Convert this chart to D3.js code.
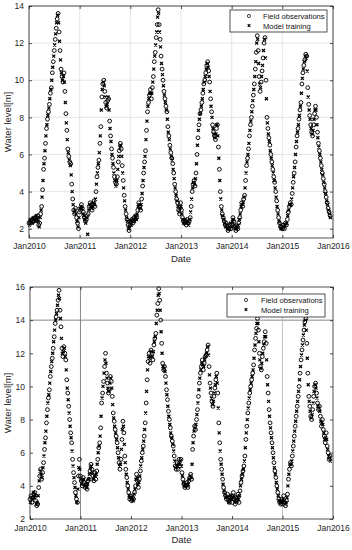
<!DOCTYPE html>
<html>
<head>
<meta charset="utf-8">
<script src="https://cdn.jsdelivr.net/npm/d3@7"></script>
<style>
body { margin: 0; background: #fff; }
svg { font-family: "Liberation Sans", Arial, sans-serif; }
</style>
</head>
<body>
<div id="chart"></div>
<script>
var width = 352,
    height = 550;

// tick values
var years = [2010, 2011, 2012, 2013, 2014, 2015, 2016];
var topYTicks = [2, 4, 6, 8, 10, 12, 14];
var botYTicks = [2, 4, 6, 8, 10, 12, 14, 16];
var legendLabels = ['Field observations', 'Model training'];

// weekly field observations from 1 Jan 2010 (top well), one line per year
var topObs = [
    2.3,2.4,2.3,2.5,2.4, 2.4,2.6,2.5,2.6, 2.7,2.2,2.3,2.8, 3.2,4.1,5.2,5.8, 6.6,7.4,7.9,8.3,8.7, 9.3,9.6,10.4,11.0, 11.6,12.2,12.8,13.3,13.6, 12.6,11.6,10.6,10.2, 9.9,10.4,9.4,8.2, 7.3,6.3,5.9,5.6,5.5, 4.4,3.6,3.0,2.8, 3.1,2.6,2.3,2.0,
    2.9,3.0,3.3,3.1,2.9, 2.6,2.4,2.5,2.7, 2.8,3.2,3.4,3.3, 3.0,3.3,3.5,3.2, 4.0,4.8,5.3,5.7,6.6, 7.5,9.1,9.8,10.0, 9.4,8.8,8.5,8.9,9.0, 7.8,7.0,6.3,5.8, 5.3,4.8,4.5,4.4, 4.8,5.6,6.2,6.6,6.3, 5.4,4.6,3.8,3.2, 2.8,2.5,2.2,1.9,
    2.2,2.4,2.5,2.3,2.6, 2.5,2.7,2.6,3.0, 3.4,3.2,3.0,3.6, 4.3,5.0,5.6,6.2, 7.3,8.3,8.8,9.2,9.5, 9.0,9.6,10.2,11.0, 11.5,12.3,13.0,13.8,13.0, 12.2,11.3,10.6,10.0, 9.4,9.0,8.6,8.3, 7.5,7.0,6.5,6.1,5.8, 5.5,5.0,4.4,4.0, 3.6,3.4,3.0,2.8,
    3.4,3.0,2.6,2.4,2.3, 2.4,2.2,2.5,2.3, 2.4,2.6,3.2,4.0, 4.4,4.6,4.3,5.0, 6.0,6.9,7.6,8.2,8.4, 8.8,9.3,9.8,10.0, 10.4,10.8,11.0,10.5,9.9, 9.0,8.3,7.6,7.2, 7.0,6.8,7.4,7.6, 6.4,5.2,4.0,3.2,2.8, 2.6,2.4,2.2,2.3, 2.1,1.9,2.0,2.2,
    2.0,2.2,2.6,2.4,2.1, 1.9,2.1,2.0,2.3, 2.6,3.0,3.4,3.2, 3.6,3.8,4.6,5.4, 5.8,6.3,7.0,7.6,8.0, 8.6,9.2,9.8,10.6, 11.5,12.4,11.6,10.2,9.4, 9.9,10.5,11.2,12.0, 12.3,10.0,8.0,7.4, 6.9,6.5,6.0,5.6,5.2, 4.8,4.5,4.0,3.5, 3.0,2.6,2.3,2.1,
    2.1,2.0,2.2,2.0,2.3, 2.2,2.5,2.9,3.2, 3.4,3.3,3.9,4.5, 5.0,5.6,6.4,7.0, 7.4,7.9,8.4,8.8,9.8, 10.4,10.8,11.1,11.4, 11.3,9.6,8.7,8.1,7.6, 7.2,7.0,7.6,8.2, 8.6,8.0,7.2,6.6, 6.2,5.8,5.4,5.0,4.7, 4.4,4.0,3.7,3.4, 3.1,2.9,2.7
];

// weekly model training values from 4 Jan 2010 (top well)
var topModel = [
    2.2,2.5,2.4,2.3,2.6, 2.5,2.4,2.7,2.5,2.4, 2.1,2.6,3.0,3.7,4.6, 5.5,6.2,7.0,7.6,8.1, 8.5,9.0,9.5,10.0,10.7, 11.3,11.9,12.5,13.1,13.5, 13.1,12.1,11.1,10.4,10.0, 10.2,9.9,8.8,7.7,6.8, 6.1,5.7,5.4,4.9,4.0, 3.3,2.9,3.0,2.8,2.4, 2.1,2.6,
    3.1,3.2,3.1,2.8,2.7, 2.5,2.3,2.6,1.7,3.0, 3.3,3.2,3.1,3.2,3.4, 3.3,3.6,4.4,5.0,5.5, 6.1,7.0,8.4,9.5,9.9, 9.7,9.1,8.6,8.7,9.1, 8.4,7.4,6.7,6.0,5.5, 5.0,4.6,4.3,4.6,5.2, 5.9,6.4,6.5,5.9,5.0, 4.2,3.5,3.0,2.6,2.4, 2.0,2.1,
    2.4,2.2,2.4,2.5,2.4, 2.7,2.5,2.8,3.2,3.3, 3.1,3.3,3.9,4.6,5.3, 5.9,6.8,7.8,8.6,9.0, 9.3,9.3,9.3,9.9,10.6, 11.3,11.9,12.6,13.4,13.6, 12.6,11.8,10.9,10.3,9.7, 9.2,8.8,8.4,7.9,7.2, 6.8,6.3,5.9,5.7,5.2, 4.7,4.2,3.8,3.5,3.2, 2.9,3.1,
    3.2,2.8,2.5,2.3,2.5, 2.3,2.4,2.4,2.2,2.5, 2.9,3.6,4.2,4.5,4.4, 4.7,5.5,6.5,7.3,7.9, 8.2,8.6,9.0,9.5,9.9, 10.2,10.6,10.9,10.7,10.2, 9.4,8.6,8.0,7.4,7.1, 6.9,7.1,7.6,7.0,5.8, 4.6,3.6,3.0,2.7,2.5, 2.3,2.1,2.2,2.0,2.0, 2.1,2.3,
    2.1,2.4,2.5,2.2,2.0, 2.0,2.1,2.2,2.5,2.8, 3.2,3.3,3.4,3.7,4.2, 5.0,5.6,6.0,6.6,7.3, 7.8,8.3,8.9,9.5,10.2, 11.0,12.0,12.2,10.9,9.8, 9.6,10.2,10.8,11.6,12.2, 11.2,9.0,7.7,7.1,6.7, 6.2,5.8,5.4,5.0,4.6, 4.2,3.7,3.2,2.8,2.4, 2.2,2.0,
    2.0,2.1,2.1,2.2,2.2, 2.3,2.7,3.0,3.3,3.3, 3.6,4.2,4.8,5.3,6.0, 6.7,7.2,7.6,8.1,8.6, 9.3,10.1,10.6,11.0,11.3, 11.2,10.5,9.1,8.4,7.9, 7.4,7.1,7.3,7.9,8.4, 8.4,7.6,6.9,6.4,6.0, 5.6,5.2,4.9,4.5,4.2, 3.9,3.5,3.3,3.0,2.8, 2.6
];

// weekly field observations from 1 Jan 2010 (bottom well)
var botObs = [
    3.2,3.4,3.0,3.3,3.5, 3.6,3.1,2.8,2.9, 3.9,4.6,5.0,4.4, 4.8,5.4,6.2,6.9, 7.8,8.6,9.3,9.8,10.6, 11.2,11.7,12.3,13.0, 13.8,14.2,14.6,15.2,15.8, 14.6,13.6,12.3,11.8, 12.4,12.0,11.6,10.4, 9.6,8.8,8.0,7.2,6.6, 5.6,4.8,4.2,3.6, 3.2,3.0,4.6,5.6,
    4.6,4.3,4.0,4.5,4.2, 3.9,4.1,3.8,4.3, 4.4,4.9,5.3,5.0, 4.6,4.3,4.8,4.4, 4.9,5.6,6.3,6.6,7.5, 9.0,9.6,10.3,11.2, 12.0,10.8,10.2,9.6,9.8, 10.6,10.3,9.4,8.4, 7.9,7.4,7.0,6.6, 6.0,5.4,5.0,5.6,6.8, 7.9,7.2,5.8,5.0, 4.5,4.0,3.6,3.2,
    3.4,3.1,3.3,3.2,3.6, 4.0,4.7,4.3,3.9, 4.4,4.9,5.5,6.0, 6.4,7.0,7.8,9.0, 10.4,11.5,12.0,11.4,12.2, 12.0,11.6,12.5,12.9, 13.2,14.3,15.0,15.9,15.2, 14.0,12.6,11.4,11.0, 11.2,10.6,9.8,9.2, 8.5,8.0,7.5,7.0,6.7, 6.4,5.8,5.2,5.0, 5.4,5.0,5.6,5.2,
    5.6,4.8,4.4,4.1,3.9, 4.0,4.2,3.9,4.3, 4.5,4.7,4.4,6.2, 7.0,7.6,7.4,8.0, 8.6,9.4,10.2,10.8,11.2, 11.6,11.0,11.4,11.8, 11.9,12.2,12.5,11.2,10.2, 9.6,9.1,8.8,9.4, 9.9,10.4,10.8,9.6, 7.8,6.6,5.6,5.0,4.4, 3.9,3.6,3.4,3.2, 3.5,3.1,3.0,3.3,
    3.4,3.0,3.6,3.2,2.9, 3.3,3.1,3.5,3.0, 3.7,4.2,4.6,4.9, 5.2,5.8,6.8,7.6, 8.4,9.0,9.6,10.0,10.4, 10.8,11.3,12.2,12.9, 13.5,14.1,13.4,12.0,11.2, 11.0,11.8,12.3,12.7, 13.3,12.6,10.6,9.6, 8.6,7.8,7.2,6.6,6.0, 5.4,4.9,4.5,4.0, 3.6,3.2,3.0,2.9,
    3.2,2.9,3.4,3.0,2.8, 3.1,3.5,4.4,5.0, 5.4,5.2,5.8,6.4, 7.0,7.6,8.2,8.8, 9.4,10.0,10.8,11.6,12.2, 12.8,13.4,13.9,14.1, 12.6,10.8,9.4,8.8,8.2, 8.0,8.6,9.4,10.0, 10.2,9.6,9.0,8.6, 8.8,8.2,7.6,8.0,7.4, 7.0,6.6,7.2,6.4, 6.0,5.6,5.8
];

// weekly model training values from 4 Jan 2010 (bottom well)
var botModel = [
    3.0,3.3,3.2,3.6,3.3, 3.4,2.9,3.0,3.4,4.3, 4.9,4.7,4.5,5.1,5.8, 6.6,7.3,8.2,9.0,9.5, 10.2,10.9,11.5,12.0,12.7, 13.4,14.0,14.4,14.9,15.5, 15.3,14.1,12.9,12.0,12.1, 12.3,11.8,11.0,9.9,9.2, 8.4,7.6,6.9,6.1,5.2, 4.5,3.9,3.4,3.0,3.8, 5.1,5.0,
    4.4,4.1,4.3,4.4,4.0, 4.0,3.9,4.1,4.4,4.7, 5.1,5.2,4.8,4.4,4.6, 4.6,4.7,5.3,6.0,6.4, 7.0,8.2,9.3,10.0,10.8, 11.6,11.4,10.5,9.9,9.7, 10.2,10.5,9.9,8.9,8.1, 7.6,7.2,6.8,6.3,5.7, 5.2,5.3,6.2,7.4,7.6, 6.5,5.4,4.7,4.2,3.8, 3.4,3.3,
    3.2,3.3,3.1,3.5,3.8, 4.4,4.5,4.1,4.2,4.6, 5.2,5.7,6.2,6.7,7.4, 8.4,9.7,11.0,11.8,11.7, 11.8,12.1,11.8,12.1,12.7, 13.0,13.8,14.6,15.5,15.6, 14.6,13.3,12.0,11.2,11.1, 10.9,10.2,9.5,8.8,8.2, 7.7,7.2,6.9,6.5,6.1, 5.5,5.1,5.2,5.2,5.3, 5.4,5.5,
    5.2,4.6,4.2,4.0,4.0, 4.1,4.0,4.1,4.4,4.6, 4.5,5.3,6.6,7.3,7.5, 7.7,8.3,9.0,9.8,10.5, 11.0,11.4,11.3,11.2,11.6, 11.8,12.0,12.4,11.9,10.7, 9.9,9.3,8.9,9.1,9.6, 10.1,10.6,10.2,8.7,7.2, 6.1,5.3,4.7,4.1,3.7, 3.5,3.3,3.3,3.3,3.0, 3.2,3.4,
    3.2,3.3,3.4,3.0,3.1, 3.2,3.3,3.2,3.4,4.0, 4.4,4.7,5.0,5.5,6.3, 7.2,8.0,8.7,9.3,9.8, 10.2,10.6,11.0,11.7,12.5, 13.2,13.8,13.8,12.7,11.6, 11.1,11.4,12.0,12.5,13.0, 13.0,11.6,10.1,9.1,8.2, 7.5,6.9,6.3,5.7,5.1, 4.7,4.2,3.8,3.4,3.1, 3.0,3.1,
    3.0,3.2,3.1,2.9,3.0, 3.3,4.0,4.7,5.2,5.3, 5.5,6.1,6.7,7.3,7.9, 8.5,9.1,9.7,10.4,11.2, 11.9,12.5,13.1,13.7,14.0, 13.4,11.7,10.1,9.1,8.5, 8.1,8.3,9.0,9.7,10.1, 9.9,9.3,8.8,8.7,8.5, 7.9,7.8,7.7,7.2,6.8, 6.9,6.8,6.2,5.8,5.7, 5.5
];

function obsDate(i) { return new Date(2010, 0, 1 + 7 * i); }
function modelDate(k) { return new Date(2010, 0, 4 + 7 * k); }

var svg = d3.select('#chart').append('svg')
    .attr('width', width)
    .attr('height', height);

var axisColor = '#262626';
var crossPath = 'M-1.5,-1.5L1.5,1.5M-1.5,1.5L1.5,-1.5';

panel({
    left: 29, right: 333, top: 6, bottom: 238,
    yDomain: [1.5, 14], yTicks: topYTicks,
    obs: topObs, model: topModel,
    grid: true, pad: 5,
    legend: {x: 230, y: 10, w: 97, h: 22, mx: 249, tx: 263}
});

panel({
    left: 30, right: 333, top: 287, bottom: 519,
    yDomain: [2, 16], yTicks: botYTicks,
    obs: botObs, model: botModel,
    grid: false, pad: 6,
    legend: {x: 227, y: 294, w: 98, h: 23, mx: 246, tx: 261}
});

function panel(p) {
    var x = d3.scaleTime()
        .domain([new Date(2010, 0, 1), new Date(2016, 0, 1)])
        .range([p.left, p.right]);
    var y = d3.scaleLinear()
        .domain(p.yDomain)
        .range([p.bottom, p.top]);
    var xTicks = years.map(function(yr) { return new Date(yr, 0, 1); });

    var g = svg.append('g');

    if (p.grid) {
        g.append('g').selectAll('line').data(xTicks).enter().append('line')
            .attr('x1', function(d) { return x(d); }).attr('x2', function(d) { return x(d); })
            .attr('y1', p.top).attr('y2', p.bottom)
            .attr('stroke', '#dedede').attr('stroke-width', 0.8);
        g.append('g').selectAll('line').data(p.yTicks).enter().append('line')
            .attr('x1', p.left).attr('x2', p.right)
            .attr('y1', function(d) { return y(d); }).attr('y2', function(d) { return y(d); })
            .attr('stroke', '#dedede').attr('stroke-width', 0.8);
    } else {
        // reference lines drawn on the lower plot
        g.append('line')
            .attr('x1', p.left).attr('x2', p.right)
            .attr('y1', y(14)).attr('y2', y(14))
            .attr('stroke', '#7a7a7a').attr('stroke-width', 0.9);
        g.append('line')
            .attr('x1', x(xTicks[1])).attr('x2', x(xTicks[1]))
            .attr('y1', p.top).attr('y2', p.bottom)
            .attr('stroke', '#7a7a7a').attr('stroke-width', 0.9);
        g.append('line')
            .attr('x1', x(xTicks[5])).attr('x2', x(xTicks[5]))
            .attr('y1', p.top).attr('y2', p.bottom)
            .attr('stroke', '#b4b4b4').attr('stroke-width', 0.8);
    }

    // field observations: open circles
    g.append('g').selectAll('circle').data(p.obs).enter().append('circle')
        .attr('cx', function(d, i) { return x(obsDate(i)); })
        .attr('cy', function(d) { return y(d); })
        .attr('r', 1.9)
        .attr('fill', 'none')
        .attr('stroke', '#000')
        .attr('stroke-width', 0.95);

    // model training: small crosses
    g.append('g').selectAll('path').data(p.model).enter().append('path')
        .attr('transform', function(d, i) {
            return 'translate(' + x(modelDate(i)) + ',' + y(d) + ')';
        })
        .attr('d', crossPath)
        .attr('stroke', '#000')
        .attr('stroke-width', 1.25);

    // axes with inward ticks on all four sides
    var fmt = d3.timeFormat('%b%Y');
    var xb = g.append('g').attr('transform', 'translate(0,' + p.bottom + ')')
        .call(d3.axisBottom(x).tickValues(xTicks).tickFormat(fmt).tickSizeInner(-3).tickSizeOuter(0).tickPadding(p.pad));
    var xt = g.append('g').attr('transform', 'translate(0,' + p.top + ')')
        .call(d3.axisTop(x).tickValues(xTicks).tickFormat('').tickSizeInner(-3).tickSizeOuter(0));
    var yl = g.append('g').attr('transform', 'translate(' + p.left + ',0)')
        .call(d3.axisLeft(y).tickValues(p.yTicks).tickSizeInner(-3).tickSizeOuter(0).tickPadding(5));
    var yr = g.append('g').attr('transform', 'translate(' + p.right + ',0)')
        .call(d3.axisRight(y).tickValues(p.yTicks).tickFormat('').tickSizeInner(-3).tickSizeOuter(0));

    [xb, xt, yl, yr].forEach(function(a) {
        a.select('.domain').remove();
        a.selectAll('line').attr('stroke', axisColor).attr('stroke-width', 0.8);
        a.selectAll('text').attr('fill', axisColor).attr('font-size', 8.5)
            .attr('font-family', '"Liberation Sans", Arial, sans-serif');
    });

    g.append('rect')
        .attr('x', p.left).attr('y', p.top)
        .attr('width', p.right - p.left).attr('height', p.bottom - p.top)
        .attr('fill', 'none').attr('stroke', axisColor).attr('stroke-width', 0.8);

    g.append('text')
        .attr('x', (p.left + p.right) / 2).attr('y', p.bottom + 24)
        .attr('text-anchor', 'middle').attr('font-size', 9.5).attr('fill', axisColor)
        .text('Date');
    g.append('text')
        .attr('transform', 'translate(11,' + (p.top + p.bottom) / 2 + ') rotate(-90)')
        .attr('text-anchor', 'middle').attr('font-size', 9.5).attr('fill', axisColor)
        .text('Water level[m]');

    // legend
    var L = p.legend;
    var lg = g.append('g');
    lg.append('rect')
        .attr('x', L.x).attr('y', L.y).attr('width', L.w).attr('height', L.h)
        .attr('fill', '#fff').attr('stroke', axisColor).attr('stroke-width', 0.8);
    lg.append('circle')
        .attr('cx', L.mx).attr('cy', L.y + 6)
        .attr('r', 1.6).attr('fill', 'none').attr('stroke', '#111').attr('stroke-width', 0.8);
    lg.append('path')
        .attr('transform', 'translate(' + L.mx + ',' + (L.y + 15.5) + ')')
        .attr('d', 'M-1.3,-1.3L1.3,1.3M-1.3,1.3L1.3,-1.3')
        .attr('stroke', '#000').attr('stroke-width', 1.1);
    lg.selectAll('text').data(legendLabels).enter().append('text')
        .attr('x', L.tx)
        .attr('y', function(d, i) { return L.y + 9 + i * 9.5; })
        .attr('font-size', 7.6).attr('fill', '#111')
        .text(function(d) { return d; });
}
</script>
</body>
</html>
